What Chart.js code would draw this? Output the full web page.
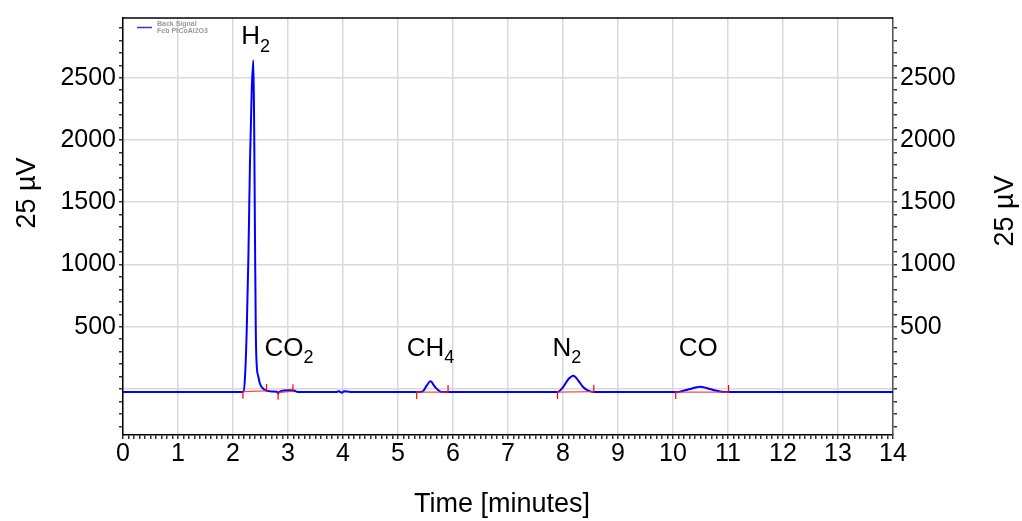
<!DOCTYPE html>
<html>
<head>
<meta charset="utf-8">
<script src="https://cdn.jsdelivr.net/npm/chart.js@4.4.1/dist/chart.umd.min.js"></script>
<style>
  html, body { margin: 0; padding: 0; background: #fff; }
  #wrap { width: 1022px; height: 521px; }
</style>
</head>
<body>
<div id="wrap"><canvas id="mycanvas" width="1022" height="521"></canvas></div>
<script>
// detector trace (minutes, 25 uV units)
var signalTime = [0, 2.15, 2.19, 2.22, 2.25, 2.28, 2.31, 2.34, 2.37, 2.385, 2.40, 2.415, 2.43, 2.46, 2.49, 2.55, 2.61, 2.70, 2.80, 2.82, 2.85, 2.95, 3.05, 3.12, 3.18,
                  3.88, 3.92, 3.98, 4.02, 4.10, 4.15, 5.40, 5.45, 5.52, 5.59, 5.67, 5.76, 5.84,
                  7.90, 8.00, 8.10, 8.19, 8.28, 8.37, 8.46, 8.56, 10.07, 10.19, 10.31, 10.43, 10.49, 10.61, 10.73, 10.88, 11.00, 14];
var signalValue = [-25, -25, -22, 110, 480, 1060, 1850, 2390, 2640, 2100, 1200, 450, 200, 100, 42, 2, -14, -20, -22, -35, -22, -12, -10, -15, -25,
                   -25, -18, -30, -18, -22, -25, -25, -20, 26, 61, 18, -19, -25,
                   -25, 13, 80, 106, 66, 13, -14, -25, -25, -14, 0, 13, 18, 8, -8, -22, -25, -25];

// integration baselines
var baseStartTime = [2.18, 2.82, 5.34, 7.90, 10.05];
var baseStartValue = [-22, -30, -25, -25, -25];
var baseEndTime = [2.61, 3.09, 5.91, 8.56, 11.01];
var baseEndValue = [-16, -18, -25, -22, -25];

// peak names
var peakName = ['H', 'CO', 'CH', 'N', 'CO'];
var peakSub = ['2', '2', '4', '2', ''];
var peakLabelTime = [2.41, 3.02, 5.59, 8.07, 10.46];
var peakLabelValue = [2768, 267, 267, 267, 267];

var xTickValues = [];
for (var i = 0; i <= 140; i++) xTickValues.push(i / 10);
var yTickValues = [];
for (var j = -300; j <= 2900; j += 100) yTickValues.push(j);

var traceData = [];
for (var k in signalTime) traceData.push({x: signalTime[k], y: signalValue[k]});
var baseData = [];
for (var b in baseStartTime) {
  baseData.push({x: baseStartTime[b], y: baseStartValue[b]});
  baseData.push({x: baseEndTime[b], y: baseEndValue[b]});
  baseData.push({x: baseEndTime[b], y: null});
}

var FONT = '"Liberation Sans", Arial, sans-serif';

var extras = {
  id: 'extras',
  afterDatasetsDraw: function(chart) {
    var c = chart.ctx, a = chart.chartArea;
    var xs = chart.scales.x, ys = chart.scales.y;
    c.save();
    // top frame line
    c.strokeStyle = '#000';
    c.lineWidth = 1.5;
    c.beginPath();
    c.moveTo(a.left, a.top);
    c.lineTo(a.right, a.top);
    c.stroke();

    // baseline start/end marks
    c.strokeStyle = '#ff0000';
    c.lineWidth = 1.2;
    for (var i in baseStartTime) {
      var x1 = xs.getPixelForValue(baseStartTime[i]), y1 = ys.getPixelForValue(baseStartValue[i]);
      var x2 = xs.getPixelForValue(baseEndTime[i]), y2 = ys.getPixelForValue(baseEndValue[i]);
      c.beginPath();
      c.moveTo(x1, y1 - 1); c.lineTo(x1, y1 + 7);
      c.moveTo(x2, y2 + 1); c.lineTo(x2, y2 - 7);
      c.stroke();
    }

    // peak labels
    c.fillStyle = '#000';
    c.textBaseline = 'alphabetic';
    for (var p in peakName) {
      c.font = '26px ' + FONT;
      var w1 = c.measureText(peakName[p]).width;
      c.font = '18px ' + FONT;
      var w2 = peakSub[p] ? c.measureText(peakSub[p]).width : 0;
      var cx = xs.getPixelForValue(peakLabelTime[p]) - (w1 + w2) / 2;
      var cy = ys.getPixelForValue(peakLabelValue[p]);
      c.textAlign = 'left';
      c.font = '26px ' + FONT;
      c.fillText(peakName[p], cx, cy);
      if (peakSub[p]) {
        c.font = '18px ' + FONT;
        c.fillText(peakSub[p], cx + w1, cy + 7.5);
      }
    }

    // legend
    c.strokeStyle = '#3030ff';
    c.lineWidth = 1.5;
    c.beginPath();
    c.moveTo(a.left + 14, a.top + 9.5);
    c.lineTo(a.left + 29, a.top + 9.5);
    c.stroke();
    c.fillStyle = '#999';
    c.font = 'bold 7px ' + FONT;
    c.textBaseline = 'middle';
    c.fillText('Back Signal', a.left + 34, a.top + 5.7);
    c.fillText('Feb PtCoAl2O3', a.left + 34, a.top + 13.3);

    // axis titles
    c.fillStyle = '#000';
    c.font = '27px ' + FONT;
    c.textAlign = 'center';
    c.textBaseline = 'alphabetic';
    c.fillText('Time [minutes]', (a.left + a.right) / 2 - 6, 512);
    c.textBaseline = 'middle';
    c.save();
    c.translate(28, 193);
    c.rotate(-Math.PI / 2);
    c.fillText('25 µV', 0, 0);
    c.restore();
    c.save();
    c.translate(1006, 211);
    c.rotate(-Math.PI / 2);
    c.fillText('25 µV', 0, 0);
    c.restore();
    c.restore();
  }
};

var ctx = document.getElementById('mycanvas');
var chromatogram = new Chart(ctx, {
  type: 'line',
  data: {
    datasets: [
      {
        label: 'base',
        data: baseData,
        borderColor: 'rgba(255, 40, 40, 0.85)',
        borderWidth: 1.2,
        pointRadius: 0,
        fill: false,
        spanGaps: false,
        order: 0
      },
      {
        label: 'Back Signal',
        data: traceData,
        borderColor: '#0000ff',
        borderWidth: 2,
        pointRadius: 0,
        fill: false,
        cubicInterpolationMode: 'monotone',
        order: 1
      }
    ]
  },
  options: {
    responsive: false,
    animation: false,
    events: [],
    layout: {padding: {top: 16, left: 0, right: 0, bottom: 0}},
    plugins: {legend: {display: false}, tooltip: {enabled: false}},
    scales: {
      x: {
        type: 'linear',
        min: 0,
        max: 14,
        afterBuildTicks: function(s) { s.ticks = xTickValues.map(function(v) { return {value: v}; }); },
        afterFit: function(s) { s.height = 86; },
        grid: {
          color: function(c) { return Math.abs(c.tick.value - Math.round(c.tick.value)) < 1e-6 ? '#d9d9d9' : 'rgba(0,0,0,0)'; },
          tickColor: '#333',
          tickLength: 4,
          lineWidth: 1.5
        },
        border: {color: '#000', width: 1.5},
        ticks: {
          autoSkip: false,
          maxRotation: 0,
          padding: 0,
          color: '#000',
          font: {family: FONT, size: 25},
          callback: function(v) { return Math.abs(v - Math.round(v)) < 1e-6 ? String(Math.round(v)) : ''; }
        }
      },
      y: {
        position: 'left',
        min: -370,
        max: 2980,
        afterBuildTicks: function(s) { s.ticks = yTickValues.map(function(v) { return {value: v}; }); },
        afterFit: function(s) { s.width = 123; },
        grid: {
          color: function(c) { return c.tick.value % 500 === 0 ? '#d9d9d9' : 'rgba(0,0,0,0)'; },
          tickColor: '#333',
          tickLength: 4,
          lineWidth: 1.5
        },
        border: {color: '#000', width: 1.5},
        ticks: {
          autoSkip: false,
          padding: 3,
          color: '#000',
          font: {family: FONT, size: 25},
          callback: function(v) { return (v % 500 === 0 && v > 0) ? String(v) : ''; }
        }
      },
      y2: {
        position: 'right',
        min: -370,
        max: 2980,
        afterBuildTicks: function(s) { s.ticks = yTickValues.map(function(v) { return {value: v}; }); },
        afterFit: function(s) { s.width = 129; },
        grid: {drawOnChartArea: false, tickColor: '#333', tickLength: 4, lineWidth: 1.5},
        border: {color: '#555', width: 1.5},
        ticks: {
          autoSkip: false,
          padding: 3,
          color: '#000',
          font: {family: FONT, size: 25},
          callback: function(v) { return (v % 500 === 0 && v > 0) ? String(v) : ''; }
        }
      }
    }
  },
  plugins: [extras]
});
</script>
</body>
</html>
